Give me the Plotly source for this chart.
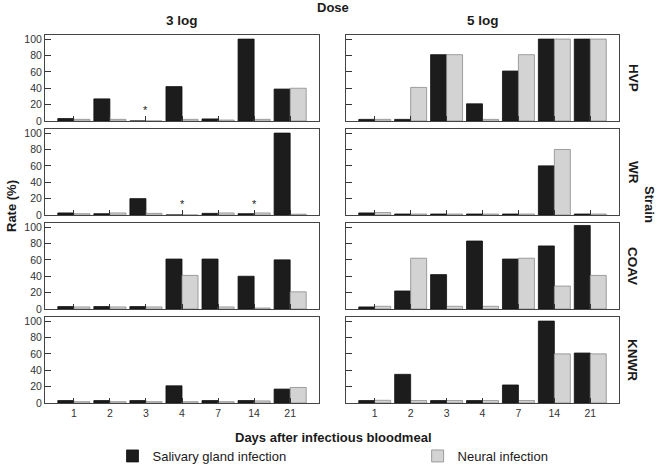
import plotly.graph_objects as go

days = ["1", "2", "3", "4", "7", "14", "21"]
strains = ["HVP", "WR", "COAV", "KNWR"]
doses = ["3 log", "5 log"]
series_names = ["Salivary gland infection", "Neural infection"]

hvp_3_sal = [3, 27, 0, 42, 2.5, 100, 39]
hvp_3_neu = [2, 2, 0, 2, 1.2, 2, 40]
hvp_5_sal = [2, 2, 81, 21, 61, 100, 100]
hvp_5_neu = [2, 41, 81, 2, 81, 100, 100]
wr_3_sal = [2.5, 1.6, 20, 0, 2, 1.6, 100]
wr_3_neu = [1.6, 2.5, 2, 0, 2.5, 2.5, 1]
wr_5_sal = [2.5, 1.2, 1.2, 1.2, 1.2, 60, 1.2]
wr_5_neu = [3, 1.2, 1.2, 1.2, 1.2, 80, 1.2]
coav_3_sal = [3, 3, 3, 61, 61, 40, 60]
coav_3_neu = [2.5, 2.5, 2.5, 41, 2.5, 1.2, 21]
coav_5_sal = [2.5, 22, 42, 83, 61, 77, 102]
coav_5_neu = [3.3, 62, 3.3, 3.3, 62, 28, 41]
knwr_3_sal = [3, 3, 3, 21, 3, 3, 17]
knwr_3_neu = [1.6, 1.6, 1.6, 1.6, 1.6, 2.5, 19]
knwr_5_sal = [3, 35, 3, 3, 22, 100, 61]
knwr_5_neu = [3.3, 3, 3, 3, 3, 60, 60]

# significance markers: (strain, dose, day)
asterisks = [("HVP", "3 log", "3"), ("WR", "3 log", "4"), ("WR", "3 log", "14")]

data = {
    ("HVP", "3 log"): (hvp_3_sal, hvp_3_neu),
    ("HVP", "5 log"): (hvp_5_sal, hvp_5_neu),
    ("WR", "3 log"): (wr_3_sal, wr_3_neu),
    ("WR", "5 log"): (wr_5_sal, wr_5_neu),
    ("COAV", "3 log"): (coav_3_sal, coav_3_neu),
    ("COAV", "5 log"): (coav_5_sal, coav_5_neu),
    ("KNWR", "3 log"): (knwr_3_sal, knwr_3_neu),
    ("KNWR", "5 log"): (knwr_5_sal, knwr_5_neu),
}

W, H = 660, 471
FONT = "Liberation Sans, Arial, sans-serif"
col_px = [(45, 319), (346, 619)]
row_px = [(35, 121), (129, 215), (223, 309), (317, 403)]

def py(p):
    return 1 - p / H

# legend label padding (non-breaking spaces) to mimic the reference spacing
legend_labels = [series_names[0] + "\u00a0" * 35, series_names[1]]

fig = go.Figure()
layout = {}
annotations = []
n = 0
for r, strain in enumerate(strains):
    for c, dose in enumerate(doses):
        n += 1
        xa = "x" if n == 1 else f"x{n}"
        ya = "y" if n == 1 else f"y{n}"
        sal, neu = data[(strain, dose)]
        fig.add_trace(go.Bar(x=days, y=sal, name=legend_labels[0],
                             marker=dict(color="#1c1c1c", line=dict(color="#111111", width=0.8)),
                             xaxis=xa, yaxis=ya, showlegend=(n == 1), legendgroup="s"))
        fig.add_trace(go.Bar(x=days, y=neu, name=legend_labels[1],
                             marker=dict(color="#d3d3d3", line=dict(color="#8a8a8a", width=0.8)),
                             xaxis=xa, yaxis=ya, showlegend=(n == 1), legendgroup="n"))
        x0, x1 = col_px[c]
        y0, y1 = row_px[r]
        layout[f"xaxis{'' if n == 1 else n}"] = dict(
            domain=[x0 / W, x1 / W], anchor=ya, type="category",
            categoryorder="array", categoryarray=days, automargin=False,
            range=[-0.8, 6.8], showline=True, mirror=True, linecolor="#444444", linewidth=1,
            ticks="inside", ticklen=5, tickcolor="#333333", tickwidth=1,
            showticklabels=(r == 3), tickfont=dict(size=10.5, color="#333333", family=FONT),
            showgrid=False, zeroline=False, fixedrange=True)
        layout[f"yaxis{'' if n == 1 else n}"] = dict(
            domain=[py(y1), py(y0)], anchor=xa, range=[0, 105], automargin=False,
            tickvals=[0, 20, 40, 60, 80, 100], showline=True, mirror=True,
            linecolor="#444444", linewidth=1, ticks="inside", ticklen=6,
            tickcolor="#333333", showticklabels=(c == 0),
            tickfont=dict(size=10.5, color="#333333", family=FONT),
            showgrid=False, zeroline=False, fixedrange=True)
        for (s, d, day) in asterisks:
            if s == strain and d == dose:
                annotations.append(dict(xref=xa, yref=ya, x=days.index(day), y=13, text="*",
                                        showarrow=False, font=dict(size=11, color="#222222", family=FONT),
                                        xanchor="center", yanchor="middle"))

bold = dict(family=FONT, size=13, color="#1a1a1a")

def label(x, y, text, font, angle=0):
    annotations.append(dict(xref="paper", yref="paper", x=x / W, y=py(y), text=text,
                            showarrow=False, font=font, textangle=angle,
                            xanchor="center", yanchor="middle"))

label(333, 8, "<b>Dose</b>", bold)
for c, dose in enumerate(doses):
    cx = (col_px[c][0] + col_px[c][1]) / 2
    label(cx, 21, f"<b>{dose}</b>", dict(family=FONT, size=13.5, color="#1a1a1a"))
for r, strain in enumerate(strains):
    cy = (row_px[r][0] + row_px[r][1]) / 2
    label(633, cy, f"<b>{strain}</b>", dict(family=FONT, size=13.5, color="#1a1a1a"), 90)
label(650, 204, "<b>Strain</b>", bold, 90)
label(11, 206, "<b>Rate (%)</b>", bold, -90)
label(333, 437, "<b>Days after infectious bloodmeal</b>", bold)

fig.update_layout(
    width=W, height=H, margin=dict(l=0, r=0, t=0, b=0),
    paper_bgcolor="white", plot_bgcolor="white",
    barmode="group", bargap=0.11, bargroupgap=0,
    showlegend=True,
    legend=dict(orientation="h", x=0.5 + 3 / W, xanchor="center", y=0, yanchor="bottom",
                font=dict(family=FONT, size=13, color="#1a1a1a"),
                bgcolor="rgba(0,0,0,0)", traceorder="normal"),
    annotations=annotations,
    **layout,
)

fig.write_html("out.html", config={"displayModeBar": False},
               post_script="document.body.style.margin='0';document.body.style.overflow='hidden';")
